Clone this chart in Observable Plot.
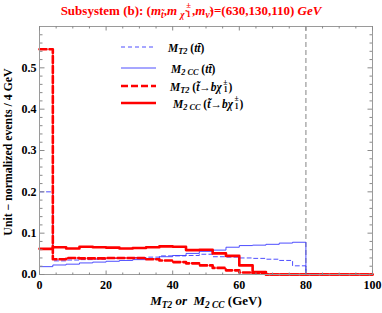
<!DOCTYPE html>
<html><head><meta charset="utf-8">
<script src="https://cdn.jsdelivr.net/npm/d3@7"></script>
<script src="https://cdn.jsdelivr.net/npm/@observablehq/plot@0.6"></script>
<style>
body{margin:0;background:#fff;font-family:"Liberation Serif","Times New Roman",serif;}
#wrap{position:relative;width:382px;height:313px;overflow:hidden;}
#title{height:20px;line-height:22px;text-align:center;color:#f00;font-weight:bold;font-size:13px;white-space:nowrap;}
sub{font-size:0.72em;line-height:0;vertical-align:-0.3em;}
.ss{display:inline-block;position:relative;width:0.45em;height:0.8em;margin-left:0.12em;}
.ss .up{position:absolute;left:0;top:-0.4em;font-size:0.66em;line-height:1;}
.ss .dn{position:absolute;left:0.05em;top:0.6em;font-size:0.66em;line-height:1;}
.leg{position:absolute;font-weight:bold;font-size:11.5px;white-space:nowrap;line-height:12px;}
.legline{position:absolute;}
#xlab{position:absolute;left:0;width:412px;top:293px;text-align:center;font-weight:bold;font-size:13px;white-space:nowrap;}
#ylab{position:absolute;width:260px;left:-122px;top:145px;height:14px;line-height:14px;text-align:center;font-weight:bold;font-size:11.8px;transform:rotate(-90deg);white-space:nowrap;}
</style></head><body>
<div id="wrap">
<div id="title">Subsystem (b): (<i>m</i><sub><i>t̃</i></sub>,<i>m</i> <sub><i>χ̃</i></sub><span class="ss"><span class="up">±</span><span class="dn">1</span></span>,<i>m</i><sub><i>ν̃</i></sub>)=(630,130,110) <i>GeV</i></div>
<div id="chart"></div>
<div id="ylab">Unit − normalized events / 4 GeV</div>
<div id="xlab"><i>M</i><sub><i>T2</i></sub> <i>or&nbsp; M</i><sub><i>2 CC</i></sub> (GeV)</div>
</div>
<script>
// histogram bin edges (GeV), 4 GeV bins
const binEdges = [0,4,8,12,16,20,24,28,32,36,40,44,48,52,56,60,64,68,72,76,80,84,88,92,96,100];
// MT2 (t tbar) – blue dashed
const mt2TT  = [0.200,0.033,0.035,0.036,0.037,0.039,0.040,0.041,0.042,0.045,0.045,0.046,0.049,0.043,0.042,0.040,0.039,0.037,0.034,0.021,0,0,0,0,0];
// M2CC (t tbar) – blue solid
const m2ccTT = [0.019,0.023,0.025,0.028,0.030,0.032,0.034,0.036,0.038,0.043,0.046,0.051,0.056,0.059,0.066,0.070,0.071,0.073,0.076,0.078,0.002,0,0,0,0];
// MT2 (stop -> b chargino) – red dashed
const mt2ST  = [0.545,0.037,0.040,0.039,0.039,0.040,0.040,0.040,0.037,0.034,0.030,0.027,0.022,0.016,0.010,0.005,0.002,0,0,0,0,0,0,0,0];
// M2CC (stop -> b chargino) – red solid
const m2ccST = [0.062,0.066,0.063,0.067,0.066,0.065,0.063,0.064,0.066,0.068,0.067,0.059,0.060,0.051,0.045,0.022,0.006,0,0,0,0,0,0,0,0];
const cutoff = [80];
const xMajor = [0,20,40,60,80,100];
const xMinor = [5,10,15,25,30,35,45,50,55,65,70,75,85,90,95];
const yMajor = [0,0.1,0.2,0.3,0.4,0.5];
const yMinor = [0.02,0.04,0.06,0.08,0.12,0.14,0.16,0.18,0.22,0.24,0.26,0.28,0.32,0.34,0.36,0.38,0.42,0.44,0.46,0.48,0.52,0.54,0.56,0.58];
const chi = '<i>χ</i><span class="ss"><span class="up">±</span><span class="dn">1</span></span>';
const legendLabels = [
  '<i>M</i><sub><i>T2</i></sub> (<i>tt̄</i>)',
  '<i>M</i><sub><i>2 CC</i></sub> (<i>tt̄</i>)',
  '<i>M</i><sub><i>T2</i></sub> (<i>t̃</i>→<i>b</i>' + chi + ')',
  '<i>M</i><sub><i>2 CC</i></sub> (<i>t̃</i>→<i>b</i>' + chi + ')'
];
const seriesValues = [mt2TT, m2ccTT, mt2ST, m2ccST];
const styles = [
  {stroke:"#3b3bff", strokeWidth:0.9, strokeDasharray:"4,3"},
  {stroke:"#3b3bff", strokeWidth:0.9, strokeDasharray:null},
  {stroke:"#ff0000", strokeWidth:2.6, strokeDasharray:"7,3"},
  {stroke:"#ff0000", strokeWidth:2.6, strokeDasharray:null}
];
function steps(vals){
  const pts = vals.map((v,i)=>({x:binEdges[i], y:v}));
  pts.push({x:binEdges[binEdges.length-1], y:vals[vals.length-1]});
  return pts;
}
const tickStroke = "#8a8a8a";
const chart = Plot.plot({
  width:382, height:293,
  marginTop:6, marginBottom:39, marginLeft:39, marginRight:10,
  style:{fontFamily:'"Liberation Serif","Times New Roman",serif', fontWeight:"bold", fontSize:"12px", color:"#000"},
  x:{domain:[0,100]},
  y:{domain:[0,0.6]},
  marks:[
    Plot.ruleX(cutoff,{stroke:"#a0a0a0", strokeWidth:1.3, strokeDasharray:"5,3"}),
    ...seriesValues.map((vals,i)=>Plot.line(steps(vals),{x:"x", y:"y", curve:"step-after", ...styles[i]})),
    Plot.frame({stroke:"#9a9a9a"}),
    // inward ticks on all four sides
    Plot.axisX(xMajor,{anchor:"top", frameAnchor:"bottom", tickSize:4.5, text:null, label:null, stroke:tickStroke}),
    Plot.axisX(xMinor,{anchor:"top", frameAnchor:"bottom", tickSize:2.5, text:null, label:null, stroke:tickStroke}),
    Plot.axisX(xMajor,{anchor:"bottom", frameAnchor:"top", tickSize:4.5, text:null, label:null, stroke:tickStroke}),
    Plot.axisX(xMinor,{anchor:"bottom", frameAnchor:"top", tickSize:2.5, text:null, label:null, stroke:tickStroke}),
    Plot.axisY(yMajor,{anchor:"right", frameAnchor:"left", tickSize:4.5, text:null, label:null, stroke:tickStroke}),
    Plot.axisY(yMinor,{anchor:"right", frameAnchor:"left", tickSize:2.5, text:null, label:null, stroke:tickStroke}),
    Plot.axisY(yMajor,{anchor:"left", frameAnchor:"right", tickSize:4.5, text:null, label:null, stroke:tickStroke}),
    Plot.axisY(yMinor,{anchor:"left", frameAnchor:"right", tickSize:2.5, text:null, label:null, stroke:tickStroke}),
    // labels
    Plot.axisX(xMajor,{anchor:"bottom", tickSize:0, tickPadding:6, label:null, fill:"#000"}),
    Plot.axisY(yMajor,{anchor:"left", tickSize:0, tickPadding:3, label:null, tickFormat:d3.format(".1f"), fill:"#000"})
  ]
});
document.getElementById("chart").appendChild(chart);
// legend (inside plot area)
const wrap = document.getElementById("wrap");
const rowY = [47, 67.5, 86, 102.5];
const textX = [168, 171, 170, 173];
legendLabels.forEach((lab,i)=>{
  const s = styles[i];
  const svg = document.createElementNS("http://www.w3.org/2000/svg","svg");
  svg.setAttribute("width",40); svg.setAttribute("height",8);
  svg.setAttribute("class","legline");
  svg.style.left="120px"; svg.style.top=(rowY[i]-4)+"px";
  const ln = document.createElementNS("http://www.w3.org/2000/svg","line");
  ln.setAttribute("x1",1); ln.setAttribute("x2",36); ln.setAttribute("y1",4); ln.setAttribute("y2",4);
  ln.setAttribute("stroke",s.stroke); ln.setAttribute("stroke-width",s.strokeWidth);
  if (s.strokeDasharray) ln.setAttribute("stroke-dasharray",s.strokeDasharray);
  svg.appendChild(ln); wrap.appendChild(svg);
  const d = document.createElement("div");
  d.className="leg"; d.innerHTML=lab;
  d.style.left=textX[i]+"px"; d.style.top=(rowY[i]-5)+"px";
  wrap.appendChild(d);
});
</script>
</body></html>
